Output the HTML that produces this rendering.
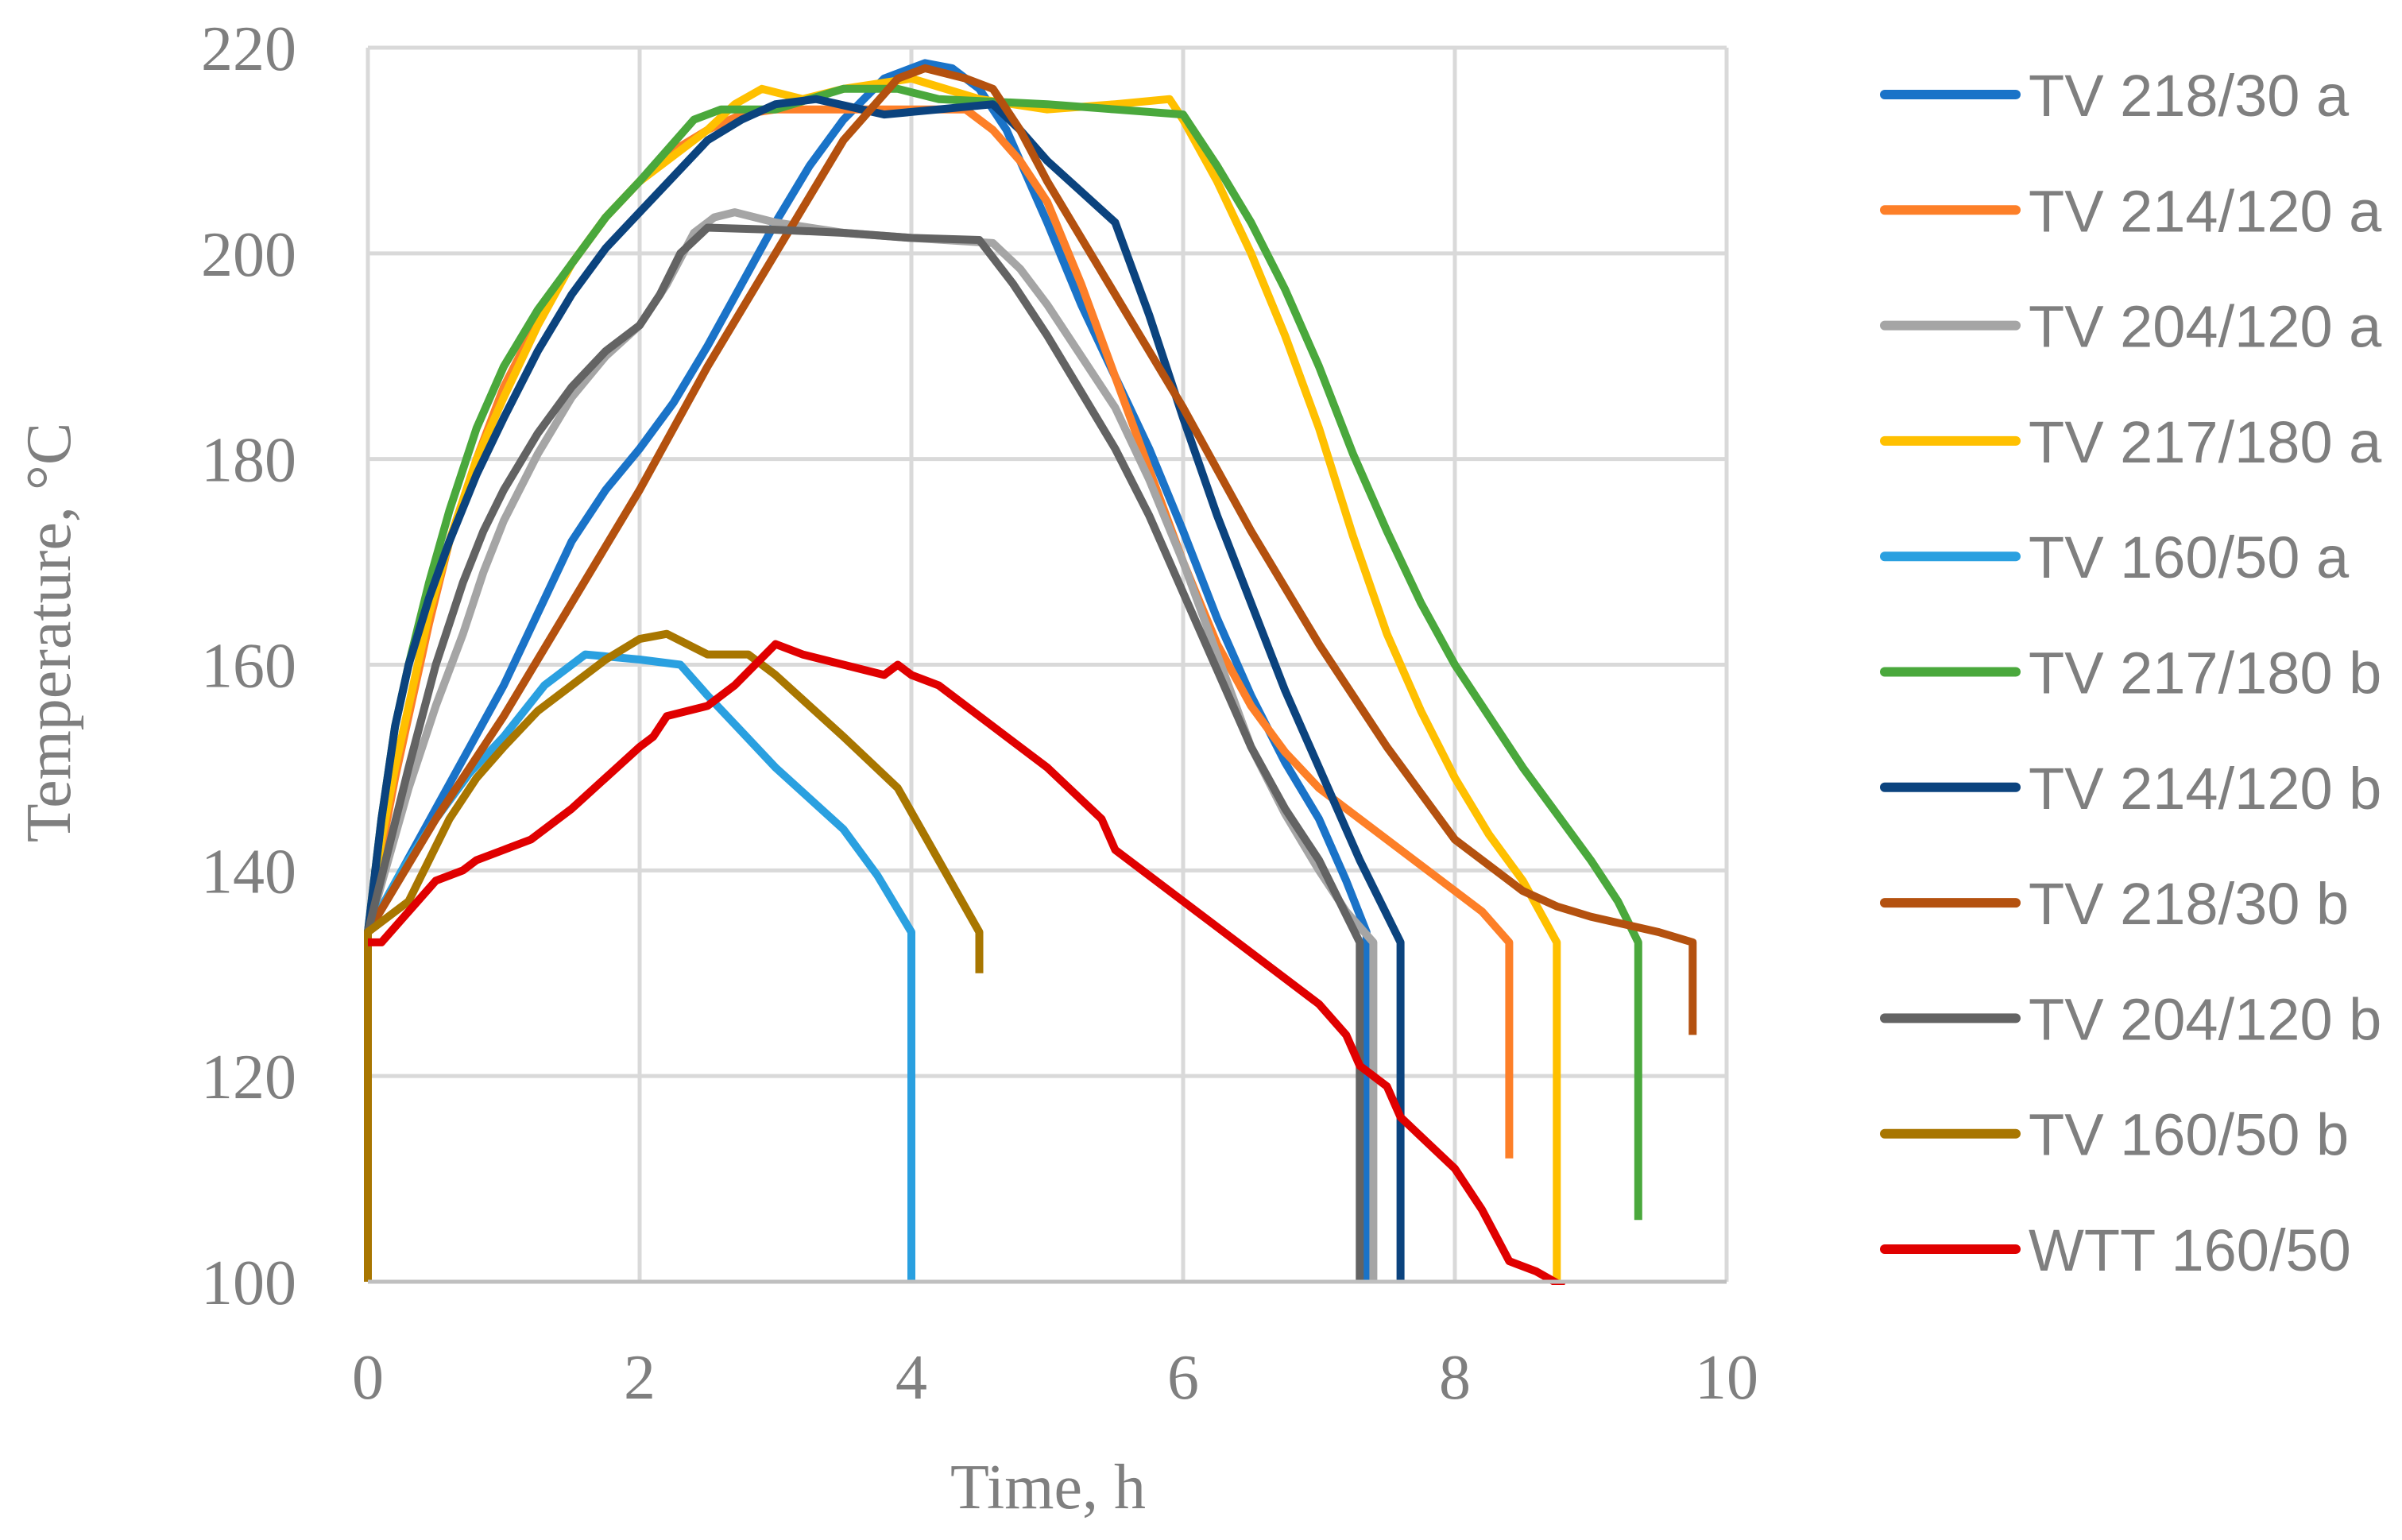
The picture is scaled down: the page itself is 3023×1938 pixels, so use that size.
<!DOCTYPE html>
<html><head><meta charset="utf-8"><style>
html,body{margin:0;padding:0;background:#fff;}
svg{display:block;}
</style></head><body>
<svg id="chart" width="3023" height="1938" viewBox="0 0 3023 1938" xmlns="http://www.w3.org/2000/svg">
<defs><clipPath id="plotclip"><rect x="455" y="52" width="1725" height="1565"/></clipPath></defs>
<g id="grid"></g>
<g id="series" clip-path="url(#plotclip)"></g>
<g id="axes"></g>
<g id="legend"></g>
<text x="0" y="0" transform="translate(88,796) rotate(-90)" text-anchor="middle" font-family="Liberation Serif, serif" font-size="80" fill="#7f7f7f">Temperature, °C</text>
<text x="1319" y="1898" text-anchor="middle" font-family="Liberation Serif, serif" font-size="80" fill="#7f7f7f">Time, h</text>
</svg>
<script>
const xTicks = [0,2,4,6,8,10];
const yTicks = [100,120,140,160,180,200,220];
const seriesNames = ["TV 218/30 a","TV 214/120 a","TV 204/120 a","TV 217/180 a","TV 160/50 a","TV 217/180 b","TV 214/120 b","TV 218/30 b","TV 204/120 b","TV 160/50 b","WTT 160/50"];
const seriesColors = ["#1a73c8","#fd7f28","#a5a5a5","#ffc000","#2aa0e0","#4aa83c","#0b437e","#b4510f","#636363","#a87600","#e00000"];
const s0 = [[0,134],[0.25,140],[0.5,146],[0.75,152],[1,158],[1.25,165],[1.5,172],[1.75,177],[2,181],[2.25,185.5],[2.5,191],[2.75,197],[3,203],[3.25,208.5],[3.5,213],[3.8,217],[4.1,218.5],[4.3,218],[4.5,216],[4.7,212],[5,203],[5.25,195],[5.5,188],[5.75,181],[6,173],[6.25,164.5],[6.5,157],[6.75,150.5],[7,145],[7.2,139],[7.35,134],[7.35,100]];
const s1 = [[0,134],[0.1,142],[0.2,149],[0.3,155],[0.45,164],[0.6,172],[0.8,180],[1,187],[1.25,193.5],[1.5,199],[1.75,203.5],[2,207],[2.25,210],[2.5,212],[2.75,213.5],[3,214],[3.5,214],[4,214],[4.4,214],[4.6,212],[4.8,209],[5,205],[5.25,197],[5.5,188],[5.75,179],[6,170],[6.25,162],[6.5,156],[6.75,151.5],[7,148],[7.5,143],[8,138],[8.2,136],[8.4,133],[8.4,112]];
const s2 = [[0,134],[0.15,141],[0.3,148],[0.5,156],[0.7,163],[0.85,169],[1,174],[1.25,180.5],[1.5,186],[1.75,190],[2,193],[2.2,197],[2.4,202],[2.55,203.5],[2.7,204],[3,203],[3.5,202],[4,201.5],[4.6,201],[4.8,198.5],[5,195],[5.25,190],[5.5,185],[5.75,178],[6,170],[6.25,161],[6.5,152],[6.75,145.5],[7,140],[7.2,136],[7.4,133],[7.4,100]];
const s3 = [[0,134],[0.1,143],[0.2,150],[0.3,156],[0.45,165],[0.6,172],[0.8,180],[1,186],[1.25,193],[1.5,199],[1.75,203.5],[2,207],[2.25,209.5],[2.5,212],[2.7,214.5],[2.9,216],[3.2,215],[3.5,216],[4,217],[4.5,215],[5,214],[5.5,214.5],[5.9,215],[6,213],[6.25,207],[6.5,200],[6.75,192],[7,183],[7.25,172.5],[7.5,163],[7.75,155.5],[8,149],[8.25,143.5],[8.5,139],[8.75,133],[8.75,100]];
const s4 = [[0,134],[0.25,140],[0.5,145],[0.75,149.5],[1,153],[1.3,158],[1.6,161],[2,160.5],[2.3,160],[2.5,157],[2.75,153.5],[3,150],[3.5,144],[3.75,139.5],[4,134],[4,100]];
const s5 = [[0,134],[0.1,145],[0.2,154],[0.3,160],[0.45,168],[0.6,175],[0.8,183],[1,189],[1.25,194.5],[1.5,199],[1.75,203.5],[2,207],[2.2,210],[2.4,213],[2.6,214],[3,214],[3.5,216],[3.9,216],[4.2,215],[5,214.5],[5.5,214],[6,213.5],[6.25,208.5],[6.5,203],[6.75,196.5],[7,189],[7.25,180.5],[7.5,173],[7.75,166],[8,160],[8.25,155],[8.5,150],[8.75,145.5],[9,141],[9.2,137],[9.35,133],[9.35,106]];
const s6 = [[0,134],[0.1,145],[0.2,154],[0.3,160],[0.45,166.5],[0.6,172],[0.8,178.5],[1,184],[1.25,190.5],[1.5,196],[1.75,200.5],[2,204],[2.25,207.5],[2.5,211],[2.75,213],[3,214.5],[3.3,215],[3.8,213.5],[4.2,214],[4.6,214.5],[4.8,212],[5,209],[5.25,206],[5.5,203],[5.75,194],[6,184],[6.25,174.5],[6.5,166],[6.75,157.5],[7,150],[7.3,141],[7.6,133],[7.6,100]];
const s7 = [[0,134],[0.5,145],[1,155],[1.5,166],[2,177],[2.5,189],[3,200],[3.5,211],[3.9,217],[4.1,218],[4.4,217],[4.6,216],[4.8,212],[5,207],[5.5,196],[6,185],[6.5,173],[7,162],[7.5,152],[7.75,147.5],[8,143],[8.25,140.5],[8.5,138],[8.75,136.5],[9,135.5],[9.5,134],[9.75,133],[9.75,124]];
const s8 = [[0,134],[0.15,142],[0.3,150],[0.5,160],[0.7,168],[0.85,173],[1,177],[1.25,182.5],[1.5,187],[1.75,190.5],[2,193],[2.15,196],[2.3,200],[2.5,202.5],[3,202.3],[3.5,202],[4,201.5],[4.5,201.3],[4.75,197],[5,192],[5.25,186.5],[5.5,181],[5.75,174.5],[6,167],[6.25,159.5],[6.5,152],[6.75,146],[7,141],[7.15,137],[7.3,133],[7.3,100]];
const s9 = [[0,100],[0,134],[0.3,137],[0.45,141],[0.6,145],[0.8,149],[1,152],[1.25,155.5],[1.5,158],[1.75,160.5],[2,162.5],[2.2,163],[2.5,161],[2.8,161],[3,159],[3.25,156],[3.5,153],[3.7,150.5],[3.9,148],[4.2,141],[4.5,134],[4.5,130]];
const s10 = [[0,133],[0.1,133],[0.3,136],[0.5,139],[0.7,140],[0.8,141],[1,142],[1.2,143],[1.5,146],[2,152],[2.1,153],[2.2,155],[2.5,156],[2.7,158],[3,162],[3.2,161],[3.5,160],[3.8,159],[3.9,160],[4,159],[4.2,158],[5,150],[5.4,145],[5.5,142],[5.9,138],[6.1,136],[6.5,132],[7,127],[7.2,124],[7.3,121],[7.5,119],[7.6,116],[8,111],[8.2,107],[8.4,102],[8.6,101],[8.8,99.5]];
const allSeries = [s0,s1,s2,s3,s4,s5,s6,s7,s8,s9,s10];

const X0=463, X1=2173, Y0=1613, Y1=60;
function xs(v){return X0+(v-0)/(10-0)*(X1-X0);}
function ys(v){return Y0-(v-100)/(220-100)*(Y0-Y1);}
const NS="http://www.w3.org/2000/svg";
const grid=document.getElementById('grid'), axes=document.getElementById('axes'), ser=document.getElementById('series'), leg=document.getElementById('legend');
function mk(tag,attrs,parent){const e=document.createElementNS(NS,tag);for(const k in attrs)e.setAttribute(k,attrs[k]);parent.appendChild(e);return e;}
yTicks.forEach(t=>{
  const l=mk('line',{x1:X0,x2:X1,y1:ys(t),y2:ys(t),stroke:'#d9d9d9','stroke-width':5},grid);
  
  
  const tx=mk('text',{x:373,y:ys(t)+28,'text-anchor':'end','font-family':'Liberation Serif, serif','font-size':80,fill:'#7f7f7f'},axes);
  tx.textContent=t;
  
  
});
xTicks.forEach(t=>{
  const l=mk('line',{x1:xs(t),x2:xs(t),y1:Y1,y2:Y0,stroke:'#d9d9d9','stroke-width':5},grid);
  
  
  const tx=mk('text',{x:xs(t),y:1760,'text-anchor':'middle','font-family':'Liberation Serif, serif','font-size':80,fill:'#7f7f7f'},axes);
  tx.textContent=t;
  
  
});
const ax=mk('line',{x1:X0,x2:X1,y1:Y0,y2:Y0,stroke:'#bfbfbf','stroke-width':5},axes);


allSeries.forEach((s,i)=>{
  const d=s.map((p,j)=>(j?'L':'M')+xs(p[0]).toFixed(1)+' '+ys(p[1]).toFixed(1)).join(' ');
  const p=mk('path',{d:d,fill:'none',stroke:seriesColors[i],'stroke-width':10,'stroke-linejoin':'round','stroke-linecap':'butt'},ser);
  
  
});
seriesNames.forEach((n,i)=>{
  const y=119+i*145.3;
  const l=mk('line',{x1:2372,x2:2537,y1:y,y2:y,stroke:seriesColors[i],'stroke-width':12,'stroke-linecap':'round'},leg);
  
  
  const tx=mk('text',{x:2553,y:y+27,'font-family':'Liberation Sans Narrow, Liberation Sans, sans-serif','font-size':74,fill:'#7f7f7f'},leg);
  tx.textContent=n;
  
  
});
</script>
</body></html>
